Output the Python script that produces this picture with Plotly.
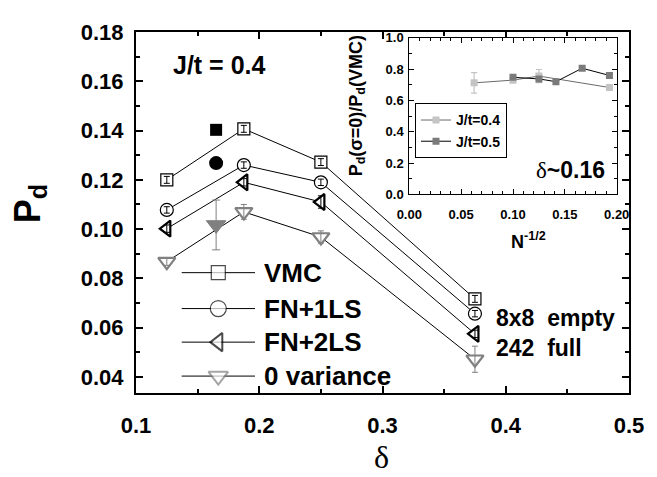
import plotly.graph_objects as go

# ---------------- data ----------------
delta = [0.125, 0.1875, 0.25, 0.375]
vmc = [0.1200, 0.1407, 0.1272, 0.0717]
vmc_err = [0.0014, 0.0014, 0.0014, 0.0014]
fn1 = [0.1078, 0.1260, 0.1190, 0.0657]
fn1_err = [0.0013, 0.0013, 0.0013, 0.0013]
fn2 = [0.1002, 0.1190, 0.1110, 0.0575]
fn2_err = [0.0015, 0.0015, 0.0025, 0.0015]
zv = [0.0868, 0.1070, 0.0968, 0.0472]
zv_err = [0.0015, 0.0030, 0.0025, 0.0053]

full_delta = [0.165]
full_vmc = [0.1403]
full_fn1 = [0.1268]
full_zv = [0.1017]
full_zv_err = [0.0101]

inv_sqrt_n_04 = [0.0625, 0.100, 0.125, 0.193]
ratio_04 = [0.7125, 0.730, 0.756, 0.683]
ratio_04_err = [0.066, 0.0, 0.042, 0.0]
inv_sqrt_n_05 = [0.100, 0.125, 0.1414, 0.1667, 0.193]
ratio_05 = [0.748, 0.738, 0.720, 0.806, 0.760]

legend_names = ["VMC", "FN+1LS", "FN+2LS", "0 variance"]
inset_names = ["J/t=0.4", "J/t=0.5"]

# ---------------- layout helpers ----------------
W, H = 657, 477
OFF = 8  # default page body margin in the browser
L, R, T, B = 136, 629, 24, 393  # plot area in page px


def px(x):
    return (x - L) / (R - L)


def py(y):
    return (B - y) / (B - T)


SANS = "Liberation Sans, Arial, sans-serif"
SERIF = "Liberation Serif, Times New Roman, serif"
GRAY = "#808080"

fig = go.Figure()

# ---------------- main series ----------------
series = [
    (vmc, vmc_err, dict(symbol="square", size=12, color="white", line=dict(color="black", width=1.2)), "black"),
    (fn1, fn1_err, dict(symbol="circle", size=13, color="white", line=dict(color="black", width=1.2)), "black"),
    (fn2, fn2_err, dict(symbol="triangle-left", size=14, color="white", line=dict(color="black", width=2.2)), "black"),
    (zv, zv_err, dict(symbol="triangle-down", size=15, color="white", line=dict(color=GRAY, width=2.2)), GRAY),
]
for vals, errs, mk, ecol in series:
    fig.add_trace(go.Scatter(x=delta, y=vals, mode="lines+markers",
                             line=dict(color="black", width=1), marker=mk,
                             showlegend=False, xaxis="x", yaxis="y"))
for vals, errs, mk, ecol in series:
    fig.add_trace(go.Scatter(x=delta, y=vals, mode="markers",
                             marker=dict(size=1, color="rgba(0,0,0,0)"),
                             error_y=dict(type="data", array=errs, color=ecol, thickness=1, width=3),
                             showlegend=False, xaxis="x", yaxis="y"))

# filled "242 full" points
fig.add_trace(go.Scatter(x=full_delta, y=full_vmc, mode="markers",
                         marker=dict(symbol="square", size=12, color="black"),
                         showlegend=False))
fig.add_trace(go.Scatter(x=full_delta, y=full_fn1, mode="markers",
                         marker=dict(symbol="circle", size=14, color="black"),
                         showlegend=False))
fig.add_trace(go.Scatter(x=full_delta, y=full_zv, mode="markers",
                         marker=dict(symbol="triangle-down", size=17, color=GRAY, line=dict(color=GRAY, width=1)),
                         error_y=dict(type="data", array=full_zv_err, color=GRAY, thickness=1, width=4),
                         showlegend=False))

# ---------------- inset ----------------
fig.add_trace(go.Scatter(x=inv_sqrt_n_04, y=ratio_04, mode="lines+markers",
                         name=inset_names[0],
                         line=dict(color="#6a6a6a", width=1),
                         marker=dict(symbol="square", size=7, color="#c4c4c4"),
                         error_y=dict(type="data", array=ratio_04_err, color="#c4c4c4", thickness=1.2, width=3),
                         xaxis="x2", yaxis="y2", legend="legend"))
fig.add_trace(go.Scatter(x=inv_sqrt_n_05, y=ratio_05, mode="lines+markers",
                         name=inset_names[1],
                         line=dict(color="black", width=1),
                         marker=dict(symbol="square", size=7, color="#7a7a7a"),
                         xaxis="x2", yaxis="y2", legend="legend"))

# ---------------- custom main legend (overlay axes in plot-area units) ----------------
key_rows = [py(270), py(306.7), py(341), py(375.7)]
key_x = [px(181.7), px(218.3), px(255)]
key_markers = [
    dict(symbol="square", size=[0, 14, 0], color="white", line=dict(color="black", width=1.2)),
    dict(symbol="circle", size=[0, 16, 0], color="white", line=dict(color="black", width=1.2)),
    dict(symbol="triangle-left", size=[0, 16, 0], color="white", line=dict(color="black", width=2)),
    dict(symbol="triangle-down", size=[0, 17, 0], color="white", line=dict(color=GRAY, width=2)),
]
for yrow, mk in zip(key_rows, key_markers):
    fig.add_trace(go.Scatter(x=key_x, y=[yrow] * 3, mode="lines+markers",
                             line=dict(color="black", width=1), marker=mk,
                             showlegend=False, xaxis="x3", yaxis="y3", hoverinfo="skip"))

annotations = []
for yrow, name in zip(key_rows, legend_names):
    annotations.append(dict(x=px(262), y=yrow, xref="paper", yref="paper", text=name,
                            showarrow=False, xanchor="left", yanchor="middle",
                            font=dict(family=SANS, size=26, color="black", weight="bold")))

annotations += [
    dict(x=px(171), y=py(57.5), xref="paper", yref="paper", text="J/t = 0.4", showarrow=False,
         xanchor="left", yanchor="middle", font=dict(family=SANS, size=25, color="black", weight="bold")),
    dict(x=px(494), y=py(316.5), xref="paper", yref="paper", text="8x8&nbsp;&nbsp;empty", showarrow=False,
         xanchor="left", yanchor="middle", font=dict(family=SANS, size=23, color="black", weight="bold")),
    dict(x=px(494), y=py(347.5), xref="paper", yref="paper", text="242&nbsp;&nbsp;full", showarrow=False,
         xanchor="left", yanchor="middle", font=dict(family=SANS, size=23, color="black", weight="bold")),
    dict(x=px(570), y=py(165), xref="paper", yref="paper",
         text="<span style='font-family:Liberation Serif;font-weight:normal'>δ</span>~0.16", showarrow=False,
         xanchor="center", yanchor="middle", font=dict(family=SANS, size=23, color="black", weight="bold")),
    dict(x=px(381), y=py(458), xref="paper", yref="paper", text="δ", showarrow=False,
         xanchor="center", yanchor="middle", font=dict(family=SERIF, size=32, color="black")),
    dict(x=px(30), y=py(200), xref="paper", yref="paper", text="P<sub>d</sub>", showarrow=False,
         textangle=-90, xanchor="center", yanchor="middle",
         font=dict(family=SANS, size=36, color="black", weight="bold")),
    dict(x=px(357), y=py(100), xref="paper", yref="paper",
         text="P<sub>d</sub>(σ=0)/P<sub>d</sub>(VMC)", showarrow=False,
         textangle=-90, xanchor="center", yanchor="middle",
         font=dict(family=SANS, size=18, color="black", weight="bold")),
    dict(x=px(528), y=py(237), xref="paper", yref="paper", text="N<sup>-1/2</sup>", showarrow=False,
         xanchor="center", yanchor="middle", font=dict(family=SANS, size=18, color="black", weight="bold")),
]

tickfont_main = dict(family=SANS, size=22, color="black", weight="bold")
tickfont_inset = dict(family=SANS, size=13, color="black", weight="bold")

fig.update_layout(
    width=W - OFF, height=H - OFF,
    margin=dict(l=L - OFF, r=W - R, t=T - OFF, b=H - B, pad=0),
    paper_bgcolor="white", plot_bgcolor="white",
    font=dict(family=SANS, color="black"),
    showlegend=True,
    annotations=annotations,
    xaxis=dict(domain=[0, 1], range=[0.1, 0.5], dtick=0.1, tick0=0.1, tickformat=".1f",
               ticks="inside", ticklen=7, tickwidth=1.5, tickcolor="black",
               minor=dict(dtick=0.05, ticks="inside", ticklen=4, tickwidth=1.5, tickcolor="black"),
               showline=True, linecolor="black", linewidth=2, mirror="ticks",
               showgrid=False, zeroline=False, tickfont=tickfont_main, ticklabelstandoff=12),
    yaxis=dict(domain=[0, 1], range=[0.0335, 0.18], dtick=0.02, tick0=0.04, tickformat=".2f",
               ticks="inside", ticklen=7, tickwidth=1.5, tickcolor="black",
               minor=dict(dtick=0.01, ticks="inside", ticklen=4, tickwidth=1.5, tickcolor="black"),
               showline=True, linecolor="black", linewidth=2, mirror="ticks",
               showgrid=False, zeroline=False, tickfont=tickfont_main, ticklabelstandoff=6),
    xaxis2=dict(domain=[px(409.3), px(616.7)], range=[0, 0.2], dtick=0.05, tickformat=".2f",
                anchor="y2", ticks="inside", ticklen=5, tickwidth=1, tickcolor="black",
                minor=dict(dtick=0.01, ticks="inside", ticklen=3, tickwidth=1, tickcolor="black"),
                showline=True, linecolor="black", linewidth=1, mirror="ticks",
                showgrid=False, zeroline=False, tickfont=tickfont_inset, ticklabelstandoff=8),
    yaxis2=dict(domain=[py(190), py(30)], range=[0, 1], dtick=0.2, tickformat=".1f",
                anchor="x2", ticks="inside", ticklen=5, tickwidth=1, tickcolor="black",
                minor=dict(dtick=0.1, ticks="inside", ticklen=3, tickwidth=1, tickcolor="black"),
                showline=True, linecolor="black", linewidth=1, mirror="ticks",
                showgrid=False, zeroline=False, tickfont=tickfont_inset, ticklabelstandoff=2),
    xaxis3=dict(overlaying="x", range=[0, 1], visible=False, fixedrange=True),
    yaxis3=dict(overlaying="y", range=[0, 1], visible=False, fixedrange=True),
    legend=dict(x=px(415), y=py(97), xanchor="left", yanchor="top", xref="paper", yref="paper",
                bgcolor="white", bordercolor="black", borderwidth=1,
                font=dict(family=SANS, size=14, color="black", weight="bold"),
                tracegroupgap=0, itemsizing="trace"),
)

fig.write_html("out.html")
